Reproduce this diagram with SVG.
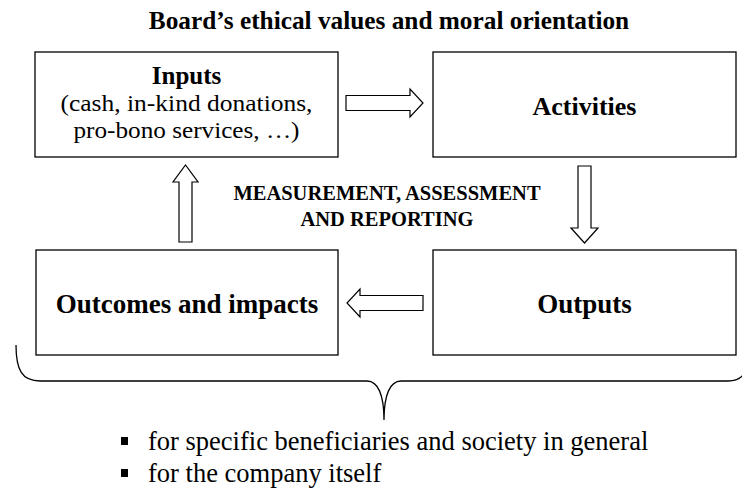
<svg xmlns="http://www.w3.org/2000/svg" width="742" height="489" viewBox="0 0 742 489">
<style>
.box{fill:#fff;stroke:#000;stroke-width:1.3}
.arr{fill:#fff;stroke:#000;stroke-width:1.2;stroke-linejoin:miter}
.t{font-family:"Liberation Serif","Times New Roman",serif;fill:#000;text-anchor:middle}
.b{font-weight:bold}
.l{text-anchor:start}
.brace{fill:none;stroke:#000;stroke-width:1.3}
</style>
<rect width="742" height="489" fill="#fff"/>
<text class="t b" x="389" y="29" font-size="25.3">Board’s ethical values and moral orientation</text>
<g id="inputs">
<rect class="box" x="35" y="52" width="303" height="105"/>
<text class="t b" x="186.5" y="84" font-size="25">Inputs</text>
<text class="t" x="186.5" y="111" font-size="24" textLength="252" lengthAdjust="spacingAndGlyphs">(cash, in-kind donations,</text>
<text class="t" x="186.5" y="138" font-size="24" textLength="226" lengthAdjust="spacingAndGlyphs">pro-bono services, …)</text>
</g>
<g id="activities">
<rect class="box" x="433" y="52" width="303" height="105"/>
<text class="t b" x="584.5" y="115" font-size="26">Activities</text>
</g>
<g id="outcomes">
<rect class="box" x="36" y="250" width="302" height="105"/>
<text class="t b" x="187" y="313" font-size="27">Outcomes and impacts</text>
</g>
<g id="outputs">
<rect class="box" x="433" y="250" width="303" height="105"/>
<text class="t b" x="584.5" y="313" font-size="27">Outputs</text>
</g>
<g id="connectors">
<polygon class="arr" points="346,95.5 410,95.5 410,89 423,103 410,117 410,110.5 346,110.5"/>
<polygon class="arr" points="578,166 591,166 591,228 598,228 584.5,243 571,228 578,228"/>
<polygon class="arr" points="423,295.5 360,295.5 360,289 347,303 360,317 360,310.5 423,310.5"/>
<polygon class="arr" points="179,242 192,242 192,182 198,182 185.5,165 173,182 179,182"/>
</g>
<g id="label">
<text class="t b" x="387" y="200" font-size="20.5">MEASUREMENT, ASSESSMENT</text>
<text class="t b" x="387" y="226" font-size="20.5">AND REPORTING</text>
</g>
<g id="brace">
<path class="brace" d="M16,345 C16,370 22,381 40,381 L367,381 C378,381 384,395 384,420 C384,395 390,381 401,381 L728,381 C736,381 740,379 743,375"/>
</g>
<g id="bullets">
<rect x="121" y="437" width="7" height="8" fill="#000"/>
<rect x="121" y="469" width="7" height="8" fill="#000"/>
<text class="t l" x="148" y="450" font-size="26.5">for specific beneficiaries and society in general</text>
<text class="t l" x="148" y="482" font-size="26.5">for the company itself</text>
</g>
</svg>
